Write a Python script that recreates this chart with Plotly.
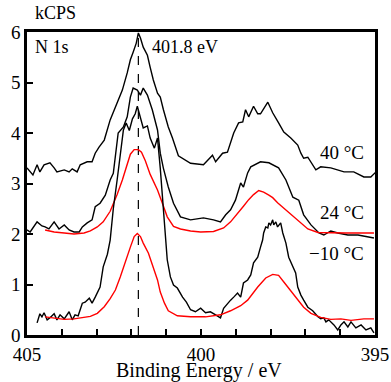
import plotly.graph_objects as go

# 40 °C measured spectrum (black)
e_40 = [405.0, 404.83, 404.71, 404.63, 404.51, 404.34, 404.22, 404.14, 403.93, 403.79, 403.70, 403.56,
        403.47, 403.27, 403.13, 403.04, 402.93, 402.78, 402.61, 402.41, 402.26, 402.12, 402.03, 401.95,
        401.86, 401.80, 401.74, 401.66, 401.54, 401.46, 401.37, 401.25, 401.17, 401.08, 400.94, 400.82,
        400.65, 400.30, 399.93, 399.67, 399.58, 399.38, 399.24, 399.06, 398.92, 398.80, 398.72, 398.63,
        398.49, 398.37, 398.29, 398.08, 397.94, 397.77, 397.62, 397.42, 397.22, 397.13, 397.05, 396.93,
        396.70, 396.56, 396.35, 396.27, 395.89, 395.61, 395.32, 395.12, 394.97]
i_40 = [3.31, 3.17, 3.37, 3.23, 3.37, 3.41, 3.31, 3.23, 3.27, 3.23, 3.29, 3.23,
        3.37, 3.43, 3.43, 3.60, 3.72, 3.86, 4.26, 4.60, 4.85, 5.19, 5.45, 5.60,
        5.78, 5.98, 5.88, 5.70, 5.54, 5.30, 5.05, 4.79, 4.71, 4.46, 4.12, 3.90,
        3.55, 3.40, 3.37, 3.56, 3.43, 3.60, 3.62, 4.00, 4.20, 4.22, 4.46, 4.32,
        4.53, 4.38, 4.38, 4.61, 4.40, 4.20, 4.02, 3.90, 3.76, 3.60, 3.50, 3.52,
        3.27, 3.33, 3.31, 3.31, 3.23, 3.23, 3.13, 3.13, 3.23]

# 24 °C measured spectrum (black)
e_24 = [405.00, 404.91, 404.71, 404.57, 404.48, 404.37, 404.22, 404.08, 403.93, 403.79, 403.65, 403.50,
        403.41, 403.27, 403.13, 403.04, 402.90, 402.75, 402.61, 402.52, 402.38, 402.23, 402.12, 402.03,
        401.95, 401.83, 401.74, 401.66, 401.54, 401.40, 401.25, 401.17, 401.08, 400.94, 400.79, 400.59,
        400.30, 399.93, 399.64, 399.44, 399.29, 399.15, 399.01, 398.86, 398.78, 398.66, 398.57, 398.29,
        398.05, 397.77, 397.56, 397.36, 397.19, 397.05, 396.84, 396.61, 396.47, 396.27, 396.07, 395.78,
        395.49, 395.20, 395.03]
i_24 = [2.08, 2.04, 2.24, 2.16, 2.14, 2.10, 2.24, 2.10, 2.18, 2.08, 2.04, 2.04,
        2.14, 2.22, 2.28, 2.54, 2.61, 2.77, 3.07, 3.20, 4.00, 4.12, 4.32, 4.71,
        4.89, 4.85, 4.75, 4.89, 4.75, 4.46, 4.06, 3.60, 3.30, 2.93, 2.61, 2.34,
        2.28, 2.32, 2.28, 2.24, 2.38, 2.48, 2.67, 3.01, 2.93, 3.21, 3.33, 3.43,
        3.41, 3.31, 3.07, 2.73, 2.67, 2.38, 2.18, 2.02, 1.98, 2.06, 2.02, 1.98,
        1.98, 1.94, 1.92]

# 24 °C fit (red)
e_24f = [404.48, 404.22, 403.93, 403.65, 403.36, 403.18, 402.98, 402.81, 402.61, 402.41, 402.26, 402.12,
         402.03, 401.92, 401.80, 401.71, 401.60, 401.46, 401.25, 401.11, 400.97, 400.79, 400.59, 400.30,
         400.01, 399.64, 399.35, 399.15, 398.95, 398.78, 398.63, 398.49, 398.34, 398.20, 398.05, 397.94,
         397.80, 397.51, 397.22, 396.93, 396.64, 396.27, 395.84, 395.40, 395.03]
i_24f = [2.08, 2.04, 2.02, 2.00, 2.02, 2.06, 2.14, 2.24, 2.45, 2.78, 3.07, 3.40,
         3.58, 3.67, 3.67, 3.62, 3.45, 3.18, 2.87, 2.61, 2.34, 2.15, 2.10, 2.06,
         2.04, 2.05, 2.12, 2.24, 2.42, 2.55, 2.68, 2.78, 2.86, 2.83, 2.77, 2.72,
         2.62, 2.45, 2.28, 2.10, 2.03, 2.02, 2.02, 2.02, 2.02]

# -10 °C measured spectrum (black)
e_m10 = [404.71, 404.63, 404.57, 404.51, 404.42, 404.34, 404.22, 404.14, 404.05, 403.93, 403.79, 403.70,
         403.62, 403.53, 403.41, 403.33, 403.21, 403.13, 403.04, 402.98, 402.90, 402.81, 402.69, 402.61,
         402.52, 402.41, 402.32, 402.23, 402.15, 402.06, 401.97, 401.89, 401.83, 401.74, 401.66, 401.54,
         401.46, 401.34, 401.25, 401.17, 401.11, 401.02, 400.97, 400.88, 400.79, 400.68, 400.53, 400.42,
         400.30, 400.16, 400.01, 399.87, 399.73, 399.58, 399.44, 399.35, 399.24, 399.15, 399.06, 398.95,
         398.86, 398.78, 398.66, 398.57, 398.49, 398.37, 398.29, 398.23, 398.20, 398.14, 398.08, 398.05,
         398.00, 397.94, 397.91, 397.85, 397.80, 397.71, 397.65, 397.56, 397.48, 397.36, 397.28, 397.22,
         397.13, 397.05, 396.93, 396.79, 396.64, 396.56, 396.47, 396.41, 396.33, 396.18, 396.07, 395.98,
         395.89, 395.78, 395.69, 395.55, 395.40, 395.26, 395.12, 395.03]
i_m10 = [0.24, 0.42, 0.36, 0.44, 0.30, 0.34, 0.42, 0.30, 0.40, 0.32, 0.46, 0.30,
         0.40, 0.38, 0.63, 0.65, 0.73, 0.63, 0.75, 0.85, 0.95, 1.35, 1.60, 1.88,
         2.50, 3.07, 3.60, 4.06, 4.20, 4.05, 4.28, 4.38, 4.53, 4.30, 4.10, 4.14,
         3.90, 3.70, 3.90, 3.30, 2.73, 1.88, 1.49, 1.15, 0.99, 0.93, 0.75, 0.65,
         0.50, 0.46, 0.53, 0.44, 0.46, 0.40, 0.34, 0.53, 0.63, 0.69, 0.75, 0.83,
         0.75, 1.03, 1.09, 1.19, 1.43, 1.54, 1.74, 1.88, 2.02, 2.14, 2.12, 2.22,
         2.18, 2.28, 2.18, 2.24, 2.14, 2.22, 2.02, 1.82, 1.54, 1.35, 1.23, 0.95,
         0.79, 0.69, 0.55, 0.48, 0.36, 0.32, 0.34, 0.26, 0.30, 0.20, 0.10, 0.20,
         0.26, 0.16, 0.26, 0.14, 0.20, 0.10, 0.14, 0.04]

# -10 °C fit (red)
e_m10f = [404.48, 404.22, 403.93, 403.65, 403.39, 403.18, 402.98, 402.78, 402.61, 402.46, 402.32, 402.18,
          402.03, 401.92, 401.83, 401.74, 401.66, 401.51, 401.37, 401.25, 401.17, 401.05, 400.94, 400.68,
          400.30, 399.87, 399.44, 399.15, 398.86, 398.66, 398.37, 398.14, 397.94, 397.77, 397.62, 397.42,
          397.22, 397.05, 396.84, 396.56, 396.27, 395.98, 395.69, 395.32, 395.03]
i_m10f = [0.36, 0.34, 0.31, 0.32, 0.34, 0.37, 0.43, 0.56, 0.72, 0.89, 1.15, 1.45,
          1.74, 1.95, 2.01, 1.95, 1.82, 1.62, 1.35, 1.09, 0.85, 0.63, 0.48, 0.38,
          0.36, 0.36, 0.40, 0.48, 0.58, 0.69, 0.95, 1.13, 1.20, 1.18, 1.05, 0.87,
          0.68, 0.55, 0.43, 0.35, 0.31, 0.32, 0.29, 0.32, 0.32]

peak_energy = 401.8
peak_top = 5.95
x_ticks = [405, 400, 395]
y_ticks = [0, 1, 2, 3, 4, 5, 6]

FONT = "'Liberation Serif', 'Times New Roman', Times, serif"
BLACK = "#000000"
RED = "#ff0000"

fig = go.Figure()
fig.add_trace(go.Scatter(x=[peak_energy, peak_energy], y=[0, peak_top], mode="lines",
                         line=dict(color=BLACK, width=1.2, dash="dash")))
fig.add_trace(go.Scatter(x=e_40, y=i_40, mode="lines", line=dict(color=BLACK, width=1.4)))
fig.add_trace(go.Scatter(x=e_24, y=i_24, mode="lines", line=dict(color=BLACK, width=1.4)))
fig.add_trace(go.Scatter(x=e_24f, y=i_24f, mode="lines", line=dict(color=RED, width=1.4)))
fig.add_trace(go.Scatter(x=e_m10, y=i_m10, mode="lines", line=dict(color=BLACK, width=1.4)))
fig.add_trace(go.Scatter(x=e_m10f, y=i_m10f, mode="lines", line=dict(color=RED, width=1.4)))

fig.update_layout(
    width=391, height=382,
    margin=dict(l=27, r=16, t=32, b=47),
    paper_bgcolor="white", plot_bgcolor="white",
    showlegend=False,
    font=dict(family=FONT, size=19, color=BLACK),
    xaxis=dict(range=[405, 395], tickvals=x_ticks, ticks="inside", ticklen=6, tickwidth=1.5,
               tickcolor=BLACK, showline=True, linewidth=2.5, linecolor=BLACK, mirror=True,
               showgrid=False, zeroline=False, automargin=False,
               minor=dict(dtick=1, ticks="inside", ticklen=6, tickwidth=1.5, tickcolor=BLACK),
               tickfont=dict(family=FONT, size=19)),
    yaxis=dict(range=[0, 6], tickvals=y_ticks, ticks="inside", ticklen=6, tickwidth=1.5,
               tickcolor=BLACK, showline=True, linewidth=2.5, linecolor=BLACK, mirror=True,
               showgrid=False, zeroline=False, automargin=False,
               tickfont=dict(family=FONT, size=19)),
)

ann_font = dict(family=FONT, size=18, color=BLACK)
# x-axis title placed below the tick labels
fig.add_annotation(x=0.495, y=-0.117, xref="paper", yref="paper", text="Binding Energy / eV",
                   showarrow=False, xanchor="center", yanchor="middle",
                   font=dict(family=FONT, size=20, color=BLACK))
fig.add_annotation(x=0.017, y=1.062, xref="paper", yref="paper", text="kCPS", showarrow=False,
                   xanchor="left", yanchor="middle", font=ann_font)
fig.add_annotation(x=404.83, y=5.7, text="N 1s", showarrow=False, xanchor="left", yanchor="middle",
                   font=ann_font)
fig.add_annotation(x=401.46, y=5.7, text="401.8 eV", showarrow=False, xanchor="left", yanchor="middle",
                   font=ann_font)
fig.add_annotation(x=395.26, y=3.62, text="40 °C", showarrow=False, xanchor="right", yanchor="middle",
                   font=dict(family=FONT, size=19, color=BLACK))
fig.add_annotation(x=395.26, y=2.43, text="24 °C", showarrow=False, xanchor="right", yanchor="middle",
                   font=dict(family=FONT, size=19, color=BLACK))
fig.add_annotation(x=395.26, y=1.62, text="\u221210 °C", showarrow=False, xanchor="right", yanchor="middle",
                   font=dict(family=FONT, size=19, color=BLACK))

fig.write_html("out.html")
